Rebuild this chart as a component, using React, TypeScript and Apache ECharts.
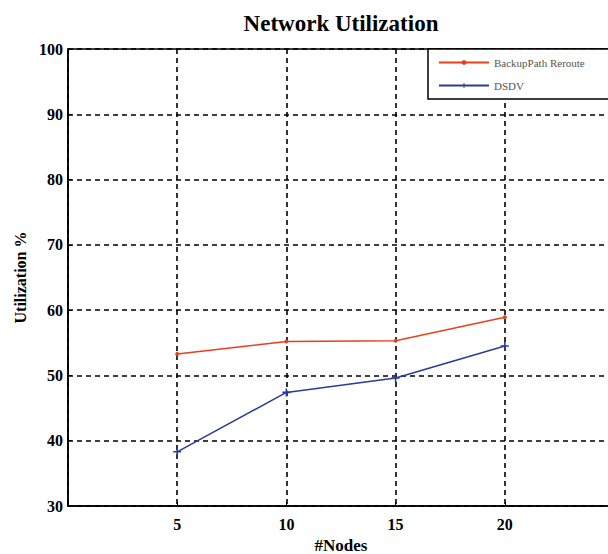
import React, { useEffect, useRef } from "react";
import * as echarts from "echarts";

const nodes = [5, 10, 15, 20];
const backupReroute = [53.3, 55.2, 55.3, 58.9];
const dsdv = [38.3, 47.4, 49.6, 54.5];
const seriesNames = ["BackupPath Reroute", "DSDV"];
const xTicks = [5, 10, 15, 20];

const FONT = "'Liberation Serif', 'DejaVu Serif', serif";

export default function App() {
  const ref = useRef<HTMLDivElement>(null);
  useEffect(() => {
    if (!ref.current) return;
    const chart = echarts.init(ref.current, null, { renderer: "svg" });
    const dashed = { color: "#000", type: [5, 4] as any, width: 1.6 };
    chart.setOption({
      animation: false,
      backgroundColor: "#fff",
      title: {
        text: "Network Utilization",
        left: 336,
        top: 7,
        textAlign: "center",
        textStyle: { fontFamily: FONT, fontWeight: "bold", fontSize: 23, color: "#000" },
      },
      legend: {
        left: 428,
        top: 49,
        orient: "vertical",
        itemWidth: 50,
        itemHeight: 6,
        itemGap: 12,
        padding: [8, 40, 8, 10],
        borderColor: "#000",
        borderWidth: 1.5,
        backgroundColor: "#fff",
        textStyle: { fontFamily: FONT, fontSize: 11, color: "#555" },
        data: seriesNames,
      },
      grid: {
        left: 68,
        top: 49,
        width: 546,
        bottom: 48,
        outerBoundsMode: "none",
        containLabel: false,
        show: true,
        borderColor: "#000",
        borderWidth: 1.5,
        backgroundColor: "transparent",
      },
      xAxis: {
        type: "value",
        min: 0,
        max: 25,
        interval: 5,
        name: "#Nodes",
        nameLocation: "middle",
        nameGap: 29,
        nameTextStyle: { fontFamily: FONT, fontWeight: "bold", fontSize: 17, color: "#000", verticalAlign: "top" },
        axisLine: { show: true, lineStyle: { color: "#000", width: 1.5 } },
        axisTick: { show: true, inside: true, length: 4, lineStyle: { color: "#000" } },
        axisLabel: {
          margin: 10,
          fontFamily: FONT,
          fontWeight: "bold",
          fontSize: 16,
          color: "#000",
          formatter: (v: number) => (xTicks.includes(v) ? String(v) : ""),
        },
        splitLine: {
          show: true,
          interval: (i: number, v: any) => xTicks.includes(Number(v)),
          lineStyle: dashed,
        },
      },
      yAxis: {
        type: "value",
        min: 30,
        max: 100,
        interval: 10,
        name: "Utilization %",
        nameLocation: "middle",
        nameGap: 34,
        nameTextStyle: { fontFamily: FONT, fontWeight: "bold", fontSize: 16, color: "#000" },
        axisLine: { show: true, lineStyle: { color: "#000", width: 1.5 } },
        axisTick: { show: true, inside: true, length: 4, lineStyle: { color: "#000" } },
        axisLabel: { margin: 5, fontFamily: FONT, fontWeight: "bold", fontSize: 16, color: "#000" },
        splitLine: { show: true, lineStyle: dashed },
      },
      series: [
        {
          name: seriesNames[0],
          type: "line",
          data: nodes.map((n, i) => [n, backupReroute[i]]),
          symbol: "circle",
          symbolSize: 4,
          lineStyle: { color: "#e8401c", width: 1.5 },
          itemStyle: { color: "#e8401c" },
        },
        {
          name: seriesNames[1],
          type: "line",
          data: nodes.map((n, i) => [n, dsdv[i]]),
          symbol: "path://M4,0 L6,0 L6,4 L10,4 L10,6 L6,6 L6,10 L4,10 L4,6 L0,6 L0,4 L4,4 Z",
          symbolSize: 8,
          lineStyle: { color: "#2a3b9c", width: 1.5 },
          itemStyle: { color: "#2a3b9c" },
        },
      ],
    });
    return () => chart.dispose();
  }, []);
  return <div ref={ref} style={{ width: 608, height: 554, position: "absolute", left: 0, top: 0 }} />;
}
